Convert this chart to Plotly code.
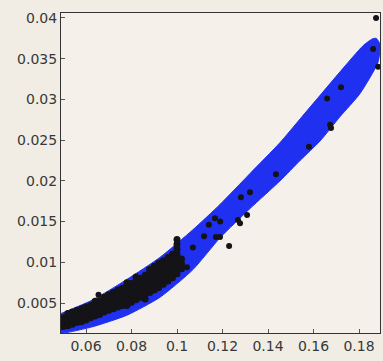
import plotly.graph_objects as go

# Fitted band: upper edge (left to right), rounded end, lower edge (right to left)
band_upper_x = [0.0490, 0.0631, 0.0780, 0.0925, 0.1070, 0.1189, 0.1321, 0.1453, 0.1541, 0.1629, 0.1717, 0.1818, 0.1857]
band_upper_y = [0.0037, 0.0054, 0.0079, 0.0106, 0.0140, 0.0171, 0.0209, 0.0247, 0.0276, 0.0305, 0.0334, 0.0366, 0.0374]
band_cap_x = [0.1875, 0.1892]
band_cap_y = [0.0375, 0.0368]
band_lower_x = [0.1884, 0.1804, 0.1717, 0.1629, 0.1541, 0.1453, 0.1321, 0.1189, 0.1070, 0.0925, 0.0780, 0.0631, 0.0521, 0.0490]
band_lower_y = [0.0346, 0.0307, 0.0279, 0.0249, 0.0225, 0.0200, 0.0166, 0.0130, 0.0091, 0.0057, 0.0035, 0.0021, 0.0014, 0.0013]

# Dense group of observations below x = 0.1 (one column of y values per x)
cluster_x = [0.050, 0.052, 0.054, 0.056, 0.058, 0.060, 0.062, 0.064, 0.066, 0.068,
             0.070, 0.072, 0.074, 0.076, 0.078, 0.080, 0.082, 0.084, 0.086, 0.088,
             0.090, 0.092, 0.094, 0.096, 0.098, 0.100, 0.102]
cluster_y = [
    [0.0021, 0.0027, 0.0032],
    [0.0022, 0.0028, 0.0034, 0.0037],
    [0.0024, 0.0030, 0.0035, 0.0039],
    [0.0026, 0.0031, 0.0037, 0.0041],
    [0.0027, 0.0033, 0.0038, 0.0043],
    [0.0029, 0.0035, 0.0040, 0.0045],
    [0.0032, 0.0037, 0.0042, 0.0047],
    [0.0034, 0.0039, 0.0044, 0.0049, 0.0052],
    [0.0036, 0.0041, 0.0047, 0.0052],
    [0.0039, 0.0044, 0.0049, 0.0054, 0.0057],
    [0.0041, 0.0046, 0.0051, 0.0056, 0.0060],
    [0.0043, 0.0048, 0.0053, 0.0058, 0.0063],
    [0.0045, 0.0050, 0.0055, 0.0061, 0.0066],
    [0.0047, 0.0053, 0.0058, 0.0063, 0.0068],
    [0.0047, 0.0055, 0.0060, 0.0066, 0.0071, 0.0075],
    [0.0051, 0.0057, 0.0063, 0.0069, 0.0074],
    [0.0054, 0.0060, 0.0066, 0.0072, 0.0077, 0.0082],
    [0.0057, 0.0063, 0.0069, 0.0075, 0.0080],
    [0.0055, 0.0060, 0.0066, 0.0072, 0.0078, 0.0084],
    [0.0063, 0.0069, 0.0075, 0.0081, 0.0087, 0.0091],
    [0.0066, 0.0072, 0.0078, 0.0084, 0.0090, 0.0095],
    [0.0069, 0.0075, 0.0081, 0.0087, 0.0093, 0.0099],
    [0.0073, 0.0079, 0.0085, 0.0091, 0.0097, 0.0102],
    [0.0077, 0.0083, 0.0089, 0.0095, 0.0101, 0.0106],
    [0.0081, 0.0087, 0.0093, 0.0099, 0.0105, 0.0110],
    [0.0086, 0.0092, 0.0098, 0.0104, 0.0110, 0.0116, 0.0122, 0.0128],
    [0.0092, 0.0098, 0.0104],
]

# Scattered observations
sparse_x = [0.0655, 0.1044, 0.107, 0.1119, 0.114, 0.1167, 0.119, 0.1171, 0.1189, 0.1229,
            0.1268, 0.1277, 0.1308, 0.1281, 0.1321, 0.1435, 0.158,
            0.166, 0.1673, 0.1677, 0.1721, 0.1862, 0.1884, 0.1875]
sparse_y = [0.0060, 0.0094, 0.0118, 0.0132, 0.0146, 0.0154, 0.0150, 0.0131, 0.0131, 0.0120,
            0.0152, 0.0148, 0.0158, 0.0180, 0.0186, 0.0208, 0.0242,
            0.0301, 0.0269, 0.0265, 0.0315, 0.0362, 0.0340, 0.0400]

dense_x = [x for x, col in zip(cluster_x, cluster_y) for _ in col]
dense_y = [y for col in cluster_y for y in col]

blue = "#1f30f0"
dot = "#141418"

fig = go.Figure()
fig.add_trace(go.Scatter(
    x=band_upper_x + band_cap_x + band_lower_x,
    y=band_upper_y + band_cap_y + band_lower_y,
    mode="lines", fill="toself", fillcolor=blue,
    line=dict(color=blue, width=1, shape="spline", smoothing=0.6),
    hoverinfo="skip", showlegend=False,
))
fig.add_trace(go.Scatter(
    x=dense_x, y=dense_y, mode="markers",
    marker=dict(color=dot, size=7, line=dict(width=0)),
    showlegend=False,
))
fig.add_trace(go.Scatter(
    x=sparse_x, y=sparse_y, mode="markers",
    marker=dict(color=dot, size=6, line=dict(width=0)),
    showlegend=False,
))

axis_common = dict(
    showgrid=False, zeroline=False, showline=True, mirror=True,
    linecolor="#333333", linewidth=1,
    ticks="inside", ticklen=4, tickcolor="#555555",
    tickfont=dict(family="DejaVu Sans, sans-serif", size=14, color="#383838"),
)
fig.update_xaxes(range=[0.04901, 0.18923], tickvals=[0.06, 0.08, 0.1, 0.12, 0.14, 0.16, 0.18],
                 ticktext=["0.06", "0.08", "0.1", "0.12", "0.14", "0.16", "0.18"], **axis_common)
fig.update_yaxes(range=[0.001316, 0.04061],
                 tickvals=[0.005, 0.01, 0.015, 0.02, 0.025, 0.03, 0.035, 0.04],
                 ticktext=["0.005", "0.01", "0.015", "0.02", "0.025", "0.03", "0.035", "0.04"],
                 **axis_common)
fig.update_layout(
    width=383, height=361,
    margin=dict(l=61, r=3, t=13, b=28),
    paper_bgcolor="#f1ede4", plot_bgcolor="#f5f1ea",
)
fig.write_html("out.html")
